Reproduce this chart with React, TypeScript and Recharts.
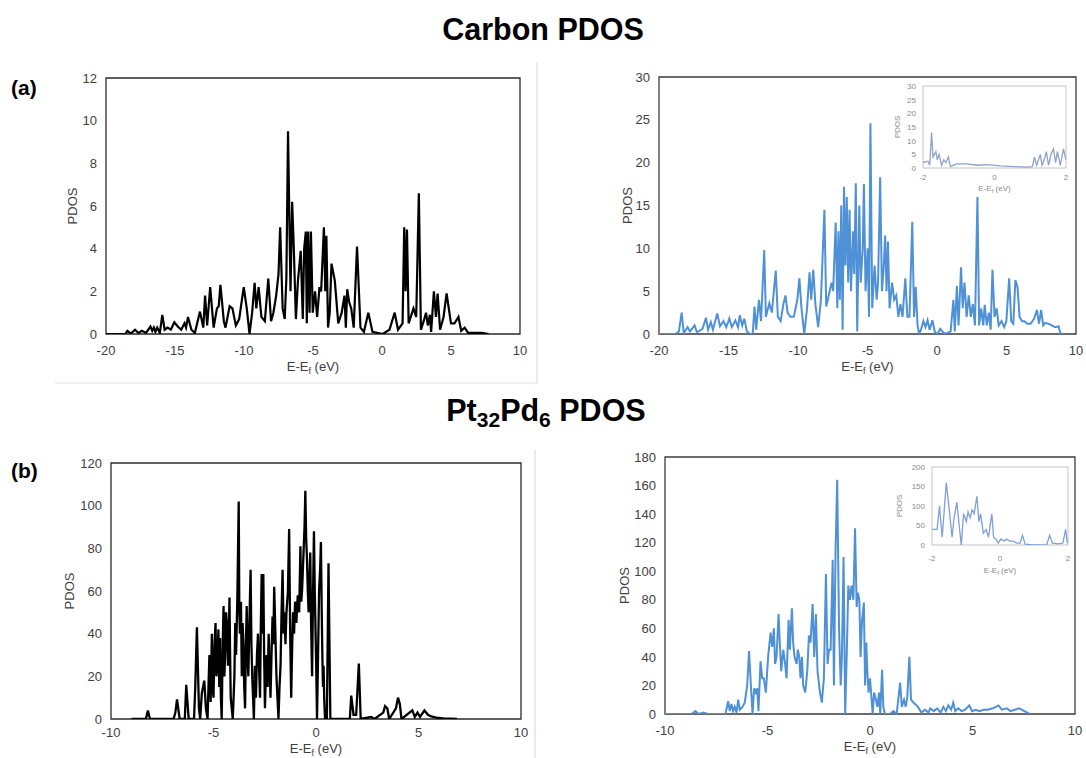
import React from 'react';
import { LineChart, Line, XAxis, YAxis, ReferenceArea, Label } from 'recharts';

const FONT = '"Liberation Sans", Arial, Helvetica, sans-serif';

// ---------- (a) Carbon PDOS, left panel (black) ----------
const carbonAE = [
  -20, -18.6, -18.45, -18.2, -17.9, -17.65, -17.4, -17.1, -16.78, -16.65,
  -16.53, -16.42, -16.29, -16.1, -15.92, -15.75, -15.54, -15.3, -15.05, -14.8,
  -14.55, -14.31, -14.2, -14.06, -13.81, -13.56, -13.19, -12.95, -12.82, -12.67,
  -12.45, -12.2, -11.96, -11.83, -11.71, -11.46, -11.34, -11.04, -10.84, -10.59,
  -10.35, -10.02, -9.8, -9.6, -9.41, -9.23, -9.11, -8.94, -8.74, -8.49,
  -8.24, -8.04, -7.87, -7.67, -7.5, -7.38, -7.2, -7.05, -6.93, -6.81,
  -6.63, -6.51, -6.39, -6.24, -6.09, -5.89, -5.74, -5.64, -5.52, -5.45,
  -5.35, -5.25, -5.15, -5.02, -4.85, -4.7, -4.53, -4.41, -4.21, -4.11,
  -4.03, -3.91, -3.79, -3.66, -3.42, -3.17, -2.92, -2.72, -2.62, -2.52,
  -2.38, -2.23, -2.05, -1.81, -1.56, -1.31, -0.99, -0.69, 0.05, 0.54,
  0.92, 1.16, 1.49, 1.61, 1.71, 1.81, 1.93, 2.28, 2.48, 2.67,
  2.82, 3.02, 3.19, 3.32, 3.47, 3.56, 3.76, 3.91, 4.03, 4.21,
  4.46, 4.68, 5.0, 5.25, 5.54, 5.74, 5.99, 6.24, 7.23, 7.72,
];
const carbonAPdos = [
  0, 0, 0.15, 0.02, 0.2, 0.05, 0.15, 0.05, 0.35, 0.15,
  0.3, 0.1, 0.3, 0.05, 0.9, 0.2, 0.3, 0.2, 0.55, 0.35,
  0.2, 0.5, 0.3, 0.8, 0.2, 0.05, 1.05, 0.3, 1.8, 0.4,
  2.2, 0.3, 1.2, 1.3, 2.3, 0.6, 0.3, 1.3, 1.2, 0.4,
  0.7, 2.2, 1.2, 0, 1.0, 2.4, 1.2, 2.2, 0.8, 0.6,
  2.6, 0.6, 1.0, 1.8, 2.8, 5.0, 1.2, 0.7, 2.6, 9.5,
  2.0, 6.2, 4.0, 0.7, 2.5, 3.9, 0.7, 4.0, 4.8, 0.5,
  4.8, 1.0, 4.8, 1.0, 2.0, 0.8, 2.2, 2.0, 5.0, 2.0,
  4.6, 0.3, 1.0, 3.3, 2.5, 0.5, 1.0, 1.8, 0.3, 2.1,
  1.5, 1.2, 0.3, 4.1, 0.3, 0.1, 1.0, 0.1, 0, 0.2,
  1.0, 0.2, 0.5, 5.0, 2.0, 4.9, 0.5, 1.2, 0.8, 6.6,
  0.2, 0.6, 1.0, 0.4, 0.9, 0.1, 2.0, 0.8, 1.9, 0.2,
  0.8, 1.9, 0.5, 0.5, 0.8, 0.15, 0.3, 0.05, 0.05, 0,
];

// ---------- (a) Carbon PDOS, right panel (blue) ----------
const carbonBE = [
  -20, -18.82, -18.57, -18.37, -18.22, -17.94, -17.77, -17.44, -17.27, -16.87,
  -16.62, -16.47, -16.27, -16.12, -15.81, -15.61, -15.36, -15.16, -14.94, -14.76,
  -14.51, -14.31, -14.19, -14.01, -13.86, -13.68, -13.43, -13.26, -13.13, -13.01,
  -12.81, -12.66, -12.43, -12.31, -12.06, -11.88, -11.6, -11.45, -11.25, -11.05,
  -10.9, -10.75, -10.55, -10.3, -10.05, -9.9, -9.75, -9.55, -9.35, -9.17,
  -9.05, -8.9, -8.75, -8.55, -8.35, -8.1, -7.97, -7.79, -7.59, -7.47,
  -7.29, -7.17, -7.09, -6.99, -6.89, -6.79, -6.69, -6.59, -6.49, -6.39,
  -6.29, -6.19, -6.04, -5.96, -5.84, -5.74, -5.59, -5.49, -5.34, -5.26,
  -5.14, -4.99, -4.89, -4.79, -4.66, -4.49, -4.34, -4.24, -4.09, -3.96,
  -3.83, -3.73, -3.63, -3.53, -3.41, -3.23, -3.08, -2.93, -2.78, -2.63,
  -2.48, -2.28, -2.13, -1.98, -1.78, -1.65, -1.53, -1.4, -1.28, -1.15,
  -0.98, -0.83, -0.68, -0.53, -0.33, -0.15, 0.03, 0.23, 0.48, 0.73,
  0.98, 1.18, 1.28, 1.43, 1.55, 1.73, 1.85, 1.98, 2.13, 2.28,
  2.43, 2.58, 2.73, 2.91, 3.03, 3.18, 3.33, 3.43, 3.58, 3.73,
  3.86, 3.99, 4.14, 4.29, 4.44, 4.64, 4.84, 4.99, 5.19, 5.34,
  5.49, 5.64, 5.79, 5.94, 6.12, 6.29, 6.49, 6.74, 6.99, 7.19,
  7.34, 7.49, 7.64, 7.79, 8.0, 8.25, 8.5, 8.75, 8.87, 9.0,
];
const carbonBPdos = [
  0, 0, 0.3, 2.5, 0.1, 0.8, 0.3, 1.0, 0.2, 0.6,
  1.9, 0.5, 1.4, 0.5, 2.4, 0.9, 1.5, 0.8, 1.8, 0.8,
  1.6, 0.8, 2.2, 1.0, 1.8, 0.3, 0, 0, 3.2, 0.5,
  4.0, 1.5, 9.8, 2.0, 3.6, 2.5, 7.4, 2.0, 1.5, 3.5,
  4.5, 2.5, 2.0, 2.0, 4.0, 6.5, 3.0, 0, 3.0, 7.2,
  4.0, 7.5, 3.5, 0.8, 4.0, 14.5, 3.2, 4.5, 6.0, 5.0,
  13.0, 3.0, 12.0, 4.0, 15.0, 0.5, 17.2, 8.0, 16.0, 6.0,
  14.5, 5.0, 12.0, 7.0, 17.6, 0.3, 15.0, 6.0, 10.0, 17.5,
  5.0, 10.0, 2.0, 24.6, 3.0, 8.0, 4.0, 6.0, 18.3, 5.0,
  8.0, 11.5, 5.0, 10.8, 3.0, 6.0, 4.0, 4.5, 2.0, 3.5,
  2.0, 6.5, 2.0, 2.0, 13.1, 2.0, 5.5, 1.0, 0, 0.5,
  1.5, 0.8, 1.6, 0.5, 1.6, 0.2, 0, 0.6, 0.1, 0.1,
  0.3, 4.0, 0.3, 5.6, 1.0, 7.8, 3.0, 6.0, 2.0, 4.5,
  2.0, 3.5, 1.0, 16.0, 1.0, 3.0, 1.0, 3.4, 1.0, 2.5,
  0.5, 7.5, 2.0, 3.0, 1.0, 1.5, 0.8, 1.5, 6.5, 1.5,
  1.2, 6.3, 5.5, 2.0, 1.5, 1.5, 1.2, 1.2, 1.8, 2.8,
  1.2, 2.8, 1.0, 1.3, 1.2, 1.0, 0.8, 0.9, 0.1, 0,
];

// inset of the blue carbon panel
const carbonInsetE = [
  -2, -1.86, -1.81, -1.76, -1.72, -1.64, -1.6, -1.55, -1.48, -1.42,
  -1.36, -1.29, -1.23, -1.06, -0.78, -0.49, -0.21, 0.16, 0.54, 0.92,
  1.06, 1.12, 1.18, 1.28, 1.33, 1.39, 1.45, 1.51, 1.58, 1.65,
  1.71, 1.76, 1.84, 1.93, 2.0,
];
const carbonInsetPdos = [
  2, 2.5, 1, 13, 4, 6, 3, 5, 1, 3,
  2, 4, 0.5, 1.5, 1.5, 1, 1.2, 0.8, 0.5, 0.3,
  0.5, 4, 1, 5, 1, 3, 6, 1, 5, 7,
  2, 6, 1, 7, 3,
];

// ---------- (b) Pt32Pd6 PDOS, left panel (black) ----------
const ptAE = [
  -9.0, -8.3, -8.2, -8.1, -6.95, -6.86, -6.78, -6.65, -6.4, -6.33,
  -6.21, -5.95, -5.89, -5.81, -5.71, -5.65, -5.57, -5.45, -5.37, -5.29,
  -5.2, -5.14, -5.08, -5.04, -5.0, -4.95, -4.9, -4.86, -4.81, -4.76,
  -4.72, -4.68, -4.64, -4.6, -4.55, -4.51, -4.47, -4.43, -4.39, -4.35,
  -4.29, -4.22, -4.19, -4.16, -4.06, -3.98, -3.94, -3.9, -3.84, -3.77,
  -3.74, -3.71, -3.66, -3.62, -3.58, -3.54, -3.5, -3.46, -3.42, -3.38,
  -3.34, -3.3, -3.25, -3.19, -3.15, -3.11, -3.07, -3.03, -2.98, -2.93,
  -2.88, -2.83, -2.78, -2.73, -2.69, -2.65, -2.61, -2.57, -2.53, -2.49,
  -2.45, -2.41, -2.36, -2.31, -2.26, -2.22, -2.17, -2.12, -2.08, -2.04,
  -1.98, -1.93, -1.88, -1.83, -1.78, -1.73, -1.68, -1.63, -1.58, -1.54,
  -1.49, -1.44, -1.37, -1.31, -1.26, -1.21, -1.16, -1.12, -1.07, -1.02,
  -0.96, -0.89, -0.82, -0.76, -0.72, -0.68, -0.64, -0.6, -0.56, -0.52,
  -0.48, -0.44, -0.4, -0.36, -0.32, -0.28, -0.24, -0.19, -0.15, -0.1,
  -0.06, -0.02, 0.01, 0.05, 0.1, 0.15, 0.2, 0.24, 0.28, 0.31,
  0.34, 0.37, 0.4, 0.44, 0.53, 0.61, 0.7, 1.65, 1.72, 1.83,
  1.96, 2.09, 2.18, 2.69, 2.85, 3.28, 3.37, 3.48, 3.57, 3.9,
  4.0, 4.09, 4.17, 4.7, 4.82, 4.95, 5.07, 5.29, 5.46, 5.62,
  5.87, 6.21, 6.88,
];
const ptAPdos = [
  0, 0, 4, 0, 0, 3, 9.2, 0, 0, 16,
  0, 0, 15, 43, 5, 0, 12, 18, 5, 0,
  30, 8, 40, 15, 10, 35, 45, 20, 25, 42,
  15, 38, 10, 0, 35, 53, 20, 30, 50, 45,
  25, 57, 30, 10, 0, 20, 45, 30, 55, 102,
  50, 40, 55, 20, 45, 35, 15, 5, 35, 53,
  30, 20, 45, 70, 35, 20, 10, 0, 25, 10,
  30, 40, 25, 10, 45, 68, 40, 68, 30, 5,
  20, 30, 15, 40, 25, 10, 30, 48, 35, 62,
  40, 20, 10, 0, 15, 25, 50, 70, 40, 50,
  35, 50, 60, 89, 40, 10, 35, 50, 40, 55,
  45, 58, 50, 81, 55, 60, 70, 80, 90, 107,
  85, 75, 60, 50, 65, 78, 45, 20, 55, 88,
  60, 40, 25, 0, 30, 60, 70, 83, 50, 30,
  15, 25, 10, 0, 0, 73, 0, 0, 11, 2,
  2, 26, 0, 1, 0, 3, 6, 5, 0, 5,
  10, 7, 0, 4, 1, 3, 1, 4, 2, 1.2,
  0.6, 0.3, 0,
];

// ---------- (b) Pt32Pd6 PDOS, right panel (blue) ----------
const ptBE = [
  -10, -8.7, -8.52, -8.35, -8.13, -7.9, -7.05, -6.92, -6.84, -6.76,
  -6.68, -6.6, -6.51, -6.43, -6.35, -6.22, -6.11, -5.99, -5.9, -5.81,
  -5.73, -5.65, -5.57, -5.5, -5.44, -5.34, -5.26, -5.18, -5.08, -4.97,
  -4.85, -4.77, -4.69, -4.63, -4.56, -4.46, -4.4, -4.33, -4.23, -4.14,
  -4.07, -3.97, -3.91, -3.81, -3.75, -3.68, -3.58, -3.52, -3.45, -3.39,
  -3.32, -3.26, -3.16, -3.06, -2.98, -2.9, -2.8, -2.72, -2.64, -2.56,
  -2.44, -2.35, -2.25, -2.15, -2.07, -2.0, -1.92, -1.82, -1.76, -1.68,
  -1.6, -1.51, -1.43, -1.37, -1.29, -1.21, -1.12, -1.06, -0.98, -0.9,
  -0.81, -0.73, -0.65, -0.59, -0.52, -0.46, -0.39, -0.3, -0.24, -0.18,
  -0.13, -0.07, 0.0, 0.08, 0.13, 0.2, 0.29, 0.36, 0.44, 0.5,
  0.59, 0.65, 0.73, 0.81, 0.98, 1.14, 1.3, 1.47, 1.55, 1.66,
  1.74, 1.82, 1.92, 2.0, 2.12, 2.34, 2.51, 2.68, 2.85, 2.94,
  3.11, 3.28, 3.45, 3.58, 3.7, 3.82, 3.96, 4.06, 4.16, 4.3,
  4.47, 4.64, 4.84, 4.98, 5.15, 5.35, 5.52, 5.74, 6.0, 6.27,
  6.43, 6.68, 6.85, 7.06, 7.28, 7.53, 7.79,
];
const ptBPdos = [
  0, 0, 2, 0, 1, 0, 0, 9, 2, 7,
  2, 5, 1, 10, 3, 5, 8, 20, 44, 20,
  0, 18, 15, 18, 2, 37, 25, 25, 15, 40,
  57, 47, 60, 35, 40, 70, 50, 30, 45, 35,
  25, 66, 45, 74, 50, 40, 35, 45, 40, 25,
  40, 20, 15, 30, 55, 50, 77, 40, 70, 30,
  15, 8, 25, 98, 35, 45, 45, 108, 20, 115,
  164, 60, 20, 40, 110, 0, 50, 90, 80, 90,
  80, 130, 75, 85, 80, 40, 65, 78, 20, 50,
  30, 15, 25, 10, 0, 15, 10, 5, 15, 0,
  31, 5, 0, 0, 0, 2, 0, 22, 5, 10,
  5, 12, 40, 10, 8, 5, 1, 3, 1, 4,
  2, 4, 1, 5, 2, 6, 3, 8, 2, 4,
  2, 3, 6, 2, 3, 2, 3, 3, 4, 6,
  3, 4, 2, 3, 4, 2, 0,
];

// inset of the blue Pt32Pd6 panel
const ptInsetE = [
  -2, -1.85, -1.78, -1.7, -1.58, -1.48, -1.41, -1.35, -1.27, -1.2,
  -1.14, -1.07, -0.99, -0.94, -0.88, -0.82, -0.76, -0.68, -0.62, -0.57,
  -0.49, -0.41, -0.34, -0.24, -0.19, -0.12, -0.05, 0.02, 0.12, 0.2,
  0.29, 0.39, 0.49, 0.59, 0.66, 0.74, 0.98, 1.37, 1.46, 1.54,
  1.71, 1.85, 1.93, 1.98,
];
const ptInsetPdos = [
  40, 40, 100, 20, 160, 80, 20, 70, 110, 50,
  0, 80, 60, 85, 70, 90, 80, 125, 60, 80,
  30, 40, 20, 80, 20, 15, 5, 15, 10, 15,
  10, 10, 5, 5, 25, 2, 0, 0, 25, 5,
  3, 5, 40, 5,
];

// axis ticks
const carbonXTicks = [-20, -15, -10, -5, 0, 5, 10];
const carbonAYTicks = [0, 2, 4, 6, 8, 10, 12];
const carbonBYTicks = [0, 5, 10, 15, 20, 25, 30];
const ptXTicks = [-10, -5, 0, 5, 10];
const ptAYTicks = [0, 20, 40, 60, 80, 100, 120];
const ptBYTicks = [0, 20, 40, 60, 80, 100, 120, 140, 160, 180];
const insetXTicks = [-2, 0, 2];
const carbonInsetYTicks = [0, 5, 10, 15, 20, 25, 30];
const ptInsetYTicks = [0, 50, 100, 150, 200];

type Cfg = {
  left: number; top: number; width: number; height: number;
  margin: { top: number; right: number; bottom: number; left: number };
  yWidth: number; xHeight: number;
  e: number[]; v: number[];
  color: string; strokeWidth: number;
  xDomain: [number, number]; xTicks: number[];
  yDomain: [number, number]; yTicks: number[];
  fontSize: number; labelFont: number; textColor: string;
  frame: string; frameWidth: number;
  yLabelX: number; xLabelDy: number;
  xTickSize: number; xTickMargin: number; yTickSize: number; yTickMargin: number;
};

function Panel(c: Cfg) {
  const data = c.e.map((e, i) => ({ e, v: c.v[i] }));
  const plotH = c.height - c.margin.top - c.margin.bottom - c.xHeight;
  const plotW = c.width - c.margin.left - c.margin.right - c.yWidth;
  const cy = c.margin.top + plotH / 2;
  const cx = c.margin.left + c.yWidth + plotW / 2;
  const xly = c.margin.top + plotH + c.xLabelDy;
  const sub = Math.round(c.labelFont * 0.72);
  const shift = Math.round(c.labelFont * 0.25);
  const yLabel = () => (
    <text x={c.yLabelX} y={cy} transform={`rotate(-90 ${c.yLabelX} ${cy})`} textAnchor="middle"
      fontSize={c.labelFont} fill={c.textColor} fontFamily={FONT}>PDOS</text>
  );
  const xLabel = () => (
    <text x={cx} y={xly} textAnchor="middle" fontSize={c.labelFont} fill={c.textColor} fontFamily={FONT}>
      E-E<tspan fontSize={sub} dy={shift}>f</tspan><tspan dy={-shift}> (eV)</tspan>
    </text>
  );
  const tickStyle = { fontSize: c.fontSize, fill: c.textColor, fontFamily: FONT };
  return (
    <div style={{ position: 'absolute', left: c.left, top: c.top, width: c.width, height: c.height }}>
      <LineChart width={c.width} height={c.height} data={data} margin={c.margin}>
        <XAxis type="number" dataKey="e" domain={c.xDomain} ticks={c.xTicks} allowDataOverflow interval={0}
          tickLine={false} axisLine={false} height={c.xHeight} tickSize={c.xTickSize} tickMargin={c.xTickMargin}
          tick={tickStyle} label={<Label content={xLabel} />} />
        <YAxis type="number" domain={c.yDomain} ticks={c.yTicks} allowDataOverflow interval={0}
          tickLine={false} axisLine={false} width={c.yWidth} tickSize={c.yTickSize} tickMargin={c.yTickMargin}
          tick={tickStyle} label={<Label content={yLabel} />} />
        <ReferenceArea x1={c.xDomain[0]} x2={c.xDomain[1]} y1={c.yDomain[0]} y2={c.yDomain[1]}
          fill="#ffffff" fillOpacity={0} stroke={c.frame} strokeWidth={c.frameWidth} ifOverflow="visible" />
        <Line type="linear" dataKey="v" stroke={c.color} strokeWidth={c.strokeWidth} dot={false}
          activeDot={false} isAnimationActive={false} />
      </LineChart>
    </div>
  );
}

const MAIN_TXT = '#404040';
const BLUE = '#4f91d6';

export default function App() {
  return (
    <div style={{ position: 'absolute', left: 0, top: 0, width: 1086, height: 758, background: '#ffffff', overflow: 'hidden' }}>
      <Panel left={0} top={60} width={540} height={330}
        margin={{ top: 18, right: 20, bottom: 20, left: 40 }} yWidth={66} xHeight={36}
        e={carbonAE} v={carbonAPdos} color="#000000" strokeWidth={2.2}
        xDomain={[-20, 10]} xTicks={carbonXTicks} yDomain={[0, 12]} yTicks={carbonAYTicks}
        fontSize={13} labelFont={13} textColor={MAIN_TXT} frame="#2a2a2a" frameWidth={1.3}
        yLabelX={77} xLabelDy={37} xTickSize={6} xTickMargin={6} yTickSize={6} yTickMargin={3} />
      <Panel left={540} top={60} width={546} height={330}
        margin={{ top: 17, right: 10, bottom: 20, left: 53 }} yWidth={66} xHeight={36}
        e={carbonBE} v={carbonBPdos} color={BLUE} strokeWidth={2}
        xDomain={[-20, 10]} xTicks={carbonXTicks} yDomain={[0, 30]} yTicks={carbonBYTicks}
        fontSize={13} labelFont={13} textColor={MAIN_TXT} frame="#3a3a3a" frameWidth={1.3}
        yLabelX={92} xLabelDy={37} xTickSize={6} xTickMargin={6} yTickSize={6} yTickMargin={3} />
      <Panel left={880} top={76} width={200} height={125}
        margin={{ top: 10, right: 14, bottom: 0, left: 13 }} yWidth={30} xHeight={33}
        e={carbonInsetE} v={carbonInsetPdos} color="#8fa4c4" strokeWidth={1.3}
        xDomain={[-2, 2]} xTicks={insetXTicks} yDomain={[0, 30]} yTicks={carbonInsetYTicks}
        fontSize={8} labelFont={8} textColor="#8a8a8a" frame="#c4c4c4" frameWidth={1}
        yLabelX={20} xLabelDy={23} xTickSize={3} xTickMargin={3} yTickSize={3} yTickMargin={4} />
      <Panel left={0} top={440} width={540} height={318}
        margin={{ top: 23, right: 19, bottom: 0, left: 45 }} yWidth={66} xHeight={39}
        e={ptAE} v={ptAPdos} color="#000000" strokeWidth={2.3}
        xDomain={[-10, 10]} xTicks={ptXTicks} yDomain={[0, 120]} yTicks={ptAYTicks}
        fontSize={13} labelFont={13} textColor={MAIN_TXT} frame="#2a2a2a" frameWidth={1.3}
        yLabelX={74} xLabelDy={34} xTickSize={6} xTickMargin={3} yTickSize={6} yTickMargin={3} />
      <Panel left={540} top={440} width={546} height={318}
        margin={{ top: 17, right: 11, bottom: 0, left: 59 }} yWidth={66} xHeight={44}
        e={ptBE} v={ptBPdos} color={BLUE} strokeWidth={2}
        xDomain={[-10, 10]} xTicks={ptXTicks} yDomain={[0, 180]} yTicks={ptBYTicks}
        fontSize={13} labelFont={13} textColor={MAIN_TXT} frame="#3a3a3a" frameWidth={1.3}
        yLabelX={89} xLabelDy={37} xTickSize={6} xTickMargin={6} yTickSize={6} yTickMargin={3} />
      <Panel left={880} top={457} width={200} height={125}
        margin={{ top: 10, right: 12, bottom: 0, left: 22 }} yWidth={30} xHeight={37}
        e={ptInsetE} v={ptInsetPdos} color="#7f9fdc" strokeWidth={1.3}
        xDomain={[-2, 2]} xTicks={insetXTicks} yDomain={[0, 200]} yTicks={ptInsetYTicks}
        fontSize={8} labelFont={8} textColor="#8a8a8a" frame="#c4c4c4" frameWidth={1}
        yLabelX={22} xLabelDy={28} xTickSize={4} xTickMargin={6} yTickSize={3} yTickMargin={4} />
      <svg width={1086} height={758} style={{ position: 'absolute', left: 0, top: 0, pointerEvents: 'none' }}>
        <text x={543} y={40} textAnchor="middle" fontFamily={FONT} fontWeight="bold" fontSize={30.5} fill="#000">Carbon PDOS</text>
        <text x={546} y={421} textAnchor="middle" fontFamily={FONT} fontWeight="bold" fontSize={30.5} fill="#000">
          Pt<tspan fontSize={21} dy={6}>32</tspan><tspan dy={-6}>Pd</tspan><tspan fontSize={21} dy={6}>6</tspan><tspan dy={-6}> PDOS</tspan>
        </text>
        <text x={11} y={95} fontFamily={FONT} fontWeight="bold" fontSize={21} fill="#000">(a)</text>
        <text x={11} y={478} fontFamily={FONT} fontWeight="bold" fontSize={21} fill="#000">(b)</text>
        <line x1={537} y1={62} x2={537} y2={383} stroke="#d6d6d6" strokeWidth={1} />
        <line x1={55} y1={383} x2={537} y2={383} stroke="#e2e2e2" strokeWidth={1} />
        <line x1={535} y1={450} x2={535} y2={758} stroke="#d6d6d6" strokeWidth={1} />
      </svg>
    </div>
  );
}
